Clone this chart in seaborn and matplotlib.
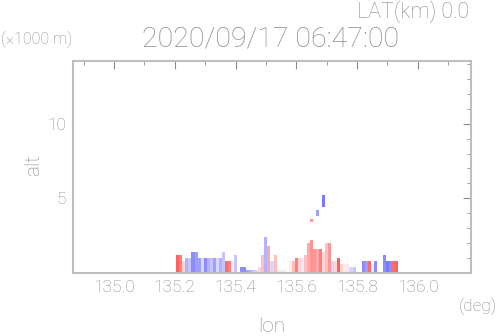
import numpy as np
import pandas as pd
import matplotlib
matplotlib.use('Agg')
import matplotlib.pyplot as plt
import seaborn as sns
from matplotlib.colors import LinearSegmentedColormap

# radar cross section (doppler velocity, normalised -1 .. 1), LAT = 0.0 km
col_lon = np.round(np.arange(135.21, 135.935, 0.01), 2)
echo_top = [1.3, 1.3, 0.8, 1.1, 1.1, 1.5, 1.5, 1.1, 1.1, 1.05,
            1.05, 1.05, 1.05, 1.0, 1.0, 1.4, 0.8, 0.8, 0.8, 1.3,
            0.0, 0.4, 0.5, 0.3, 0.3, 0.3, 0.3, 0.5, 1.2, 2.4,
            1.8, 0.8, 1.3, 0.3, 0.3, 0.3, 0.3, 0.8, 0.8, 1.1,
            1.1, 1.1, 1.2, 2.0, 2.3, 1.6, 1.6, 1.6, 1.5, 2.1,
            2.0, 0.8, 0.8, 1.1, 0.7, 0.7, 0.7, 0.5, 0.5, 0.0,
            0.0, 0.75, 0.75, 0.75, 0.6, 0.8, 0.0, 0.0, 1.3, 0.8,
            0.8, 0.8, 0.8]
echo_vel = [0.8, 0.6, 0.2, -0.4, -0.3, -0.6, -0.5, -0.5, -0.2, -0.6,
            -0.4, -0.3, -0.5, -0.2, -0.4, -0.3, 0.7, 0.6, 0.1, -0.3,
            0.0, -0.6, -0.6, -0.5, -0.4, -0.3, -0.2, 0.2, 0.3, -0.4,
            0.4, -0.2, 0.3, 0.1, -0.1, 0.1, 0.0, 0.1, 0.3, 0.6,
            0.2, -0.1, 0.3, 0.4, 0.5, 0.5, 0.4, 0.6, 0.2, 0.3,
            0.5, -0.2, 0.2, 0.8, 0.2, 0.1, 0.1, -0.2, -0.3, 0.0,
            0.0, -0.6, -0.5, 0.7, -0.1, -0.6, 0.0, 0.0, -0.6, -0.7,
            -0.6, 0.7, 0.8]

# isolated echoes aloft
blob_lon = [135.65, 135.67, 135.69]
blob_bottom = [3.3, 3.8, 4.3]
blob_top = [3.7, 4.3, 5.3]
blob_vel = [0.5, -0.5, -0.7]

x_ticks = [135.0, 135.2, 135.4, 135.6, 135.8, 136.0]
y_ticks = [5, 10]

# grid of the whole plot window
lon_step, alt_step = 0.01, 0.2
lon_min, lon_max = 134.865, 136.175
alt_max = 14.2
lon_grid = np.round(np.arange(lon_min + lon_step / 2, lon_max, lon_step), 3)
alt_grid = np.round(np.arange(alt_step / 2, alt_max, alt_step), 2)

field = np.full((len(alt_grid), len(lon_grid)), np.nan)
for lon, top, v in zip(col_lon, echo_top, echo_vel):
    j = np.argmin(np.abs(lon_grid - lon))
    field[alt_grid < top, j] = v
for lon, b, t, v in zip(blob_lon, blob_bottom, blob_top, blob_vel):
    j = np.argmin(np.abs(lon_grid - lon))
    field[(alt_grid > b) & (alt_grid < t), j] = v

df = pd.DataFrame(field[::-1], index=alt_grid[::-1], columns=lon_grid)

cmap = LinearSegmentedColormap.from_list('vel', ['#7070ff', '#ffffff', '#ff6060'])

sns.set_style('white')
plt.rcParams['font.family'] = ['Roboto', 'DejaVu Sans']
plt.rcParams['font.weight'] = 'light'
gray = '#8a8a8a'

fig = plt.figure(figsize=(4.98, 3.36), dpi=100)
ax = fig.add_axes([73 / 498, 1 - 273 / 336, 398 / 498, 212 / 336])
sns.heatmap(df, cmap=cmap, vmin=-0.75, vmax=0.75, cbar=False, ax=ax,
            xticklabels=False, yticklabels=False)

def xpos(v):
    return (np.asarray(v) - lon_min) / lon_step

def ypos(v):
    return (alt_max - np.asarray(v)) / alt_step

ax.set_xlim(0, len(lon_grid))
ax.set_ylim(len(alt_grid), 0)
ax.set_xticks(xpos(x_ticks))
ax.set_xticklabels([f'{t:.1f}' for t in x_ticks])
ax.set_xticks(xpos(np.arange(134.9, 136.15, 0.1)), minor=True)
ax.set_yticks(ypos(y_ticks))
ax.set_yticklabels([str(t) for t in y_ticks])
ax.set_yticks(ypos(np.arange(1, 15)), minor=True)
ax.tick_params(which='both', direction='in', top=True, right=True,
               color=gray, labelcolor=gray, labelsize=12.5, pad=5)
ax.tick_params(which='major', length=6, width=0.8)
ax.tick_params(which='minor', length=3, width=0.6)
ax.set_xlabel('')
ax.set_ylabel('')
for s in ax.spines.values():
    s.set_visible(True)
    s.set_color('#bebebe')
    s.set_linewidth(1.5)

fig.text(469 / 498, 1 - 12 / 336, 'LAT(km) 0.0', ha='right', va='center',
         fontsize=15.5, color=gray)
fig.text(271 / 498, 1 - 39 / 336, '2020/09/17 06:47:00', ha='center', va='center',
         fontsize=20.5, color=gray)
fig.text(1 / 498, 1 - 39 / 336, '(×1000 m)', ha='left', va='center',
         fontsize=11.5, color=gray)
fig.text(497 / 498, 1 - 306 / 336, '(deg)', ha='right', va='center',
         fontsize=12.5, color=gray)
fig.text(272 / 498, 1 - 327 / 336, 'lon', ha='center', va='center',
         fontsize=15, color=gray)
fig.text(34 / 498, 1 - 165 / 336, 'alt', ha='center', va='center',
         fontsize=15, color=gray, rotation=90)

fig.savefig('out.png', dpi=100)
